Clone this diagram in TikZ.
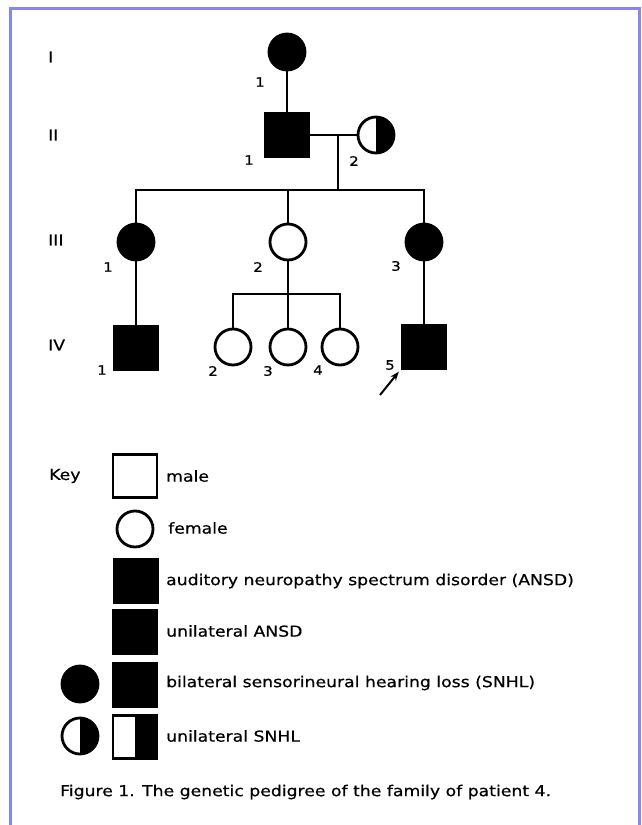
\documentclass[tikz,border=0pt]{standalone}
\usepackage{fontspec}
\setmainfont{DejaVu Sans}[FakeStretch=1.15,FakeBold=0.6]
\usetikzlibrary{arrows.meta}
\definecolor{frameblue}{RGB}{136,136,234}
\begin{document}
\begin{tikzpicture}[x=1pt,y=-1pt]
%styles
\tikzstyle{female}=[circle, draw, line width=2.8pt, minimum size=36pt, inner sep=0pt]
\tikzstyle{male}=[rectangle, draw, line width=2.4pt, minimum width=44pt, minimum height=43pt, inner sep=0pt]
\tikzstyle{affected}=[fill=black]
\tikzstyle{halfright}=[path picture={\fill (path picture bounding box.north) rectangle (path picture bounding box.south east);}]
\tikzstyle{idnum}=[font=\fontsize{13}{13}\selectfont, inner sep=0pt]
\tikzstyle{gen}=[anchor=west, font=\fontsize{15}{15}\selectfont, inner sep=0pt]
\tikzstyle{keytext}=[anchor=west, font=\fontsize{15}{15}\selectfont, inner sep=0pt]
\tikzstyle{line}=[line width=2.8pt]
%frame
\useasboundingbox (0,0) rectangle (641,825);
\draw[frameblue, line width=3pt] (10.5,830) -- (10.5,8.5) -- (639.5,8.5) -- (639.5,830);
%generations
\node[gen] (genI) at (48,57) {I};
\node[gen] (genII) at (48,135) {II};
\node[gen] (genIII) at (48,240) {III};
\node[gen] (genIV) at (48,345) {IV};
%nodes
\node[female, affected] (I1) at (287,52) {};
\node[male, affected] (II1) at (287,135) {};
\node[female, halfright] (II2) at (376,135) {};
\node[female, affected] (III1) at (136,242) {};
\node[female] (III2) at (288,242) {};
\node[female, affected] (III3) at (424,242) {};
\node[male, affected] (IV1) at (136,348) {};
\node[female] (IV2) at (233,347) {};
\node[female] (IV3) at (288,347) {};
\node[female] (IV4) at (340,347) {};
\node[male, affected] (IV5) at (424,347) {};
%numbers
\node[idnum] (nI1) at (260,82) {1};
\node[idnum] (nII1) at (249,160) {1};
\node[idnum] (nII2) at (354,161) {2};
\node[idnum] (nIII1) at (108,267) {1};
\node[idnum] (nIII2) at (258,267) {2};
\node[idnum] (nIII3) at (396,266) {3};
\node[idnum] (nIV1) at (102,370) {1};
\node[idnum] (nIV2) at (213,371) {2};
\node[idnum] (nIV3) at (268,371) {3};
\node[idnum] (nIV4) at (318,370) {4};
\node[idnum] (nIV5) at (390,365) {5};
%lines
\coordinate (mate) at (338,135);
\coordinate (sibL) at (136,190);
\coordinate (sibM) at (288,190);
\coordinate (sibR) at (424,190);
\coordinate (sub) at (288,294);
\draw[line] (I1) -- (II1);
\draw[line] (II1) -- (II2);
\draw[line] (mate) -- (mate |- sibL);
\draw[line] (III1) -- (sibL) -- (sibR) -- (III3);
\draw[line] (III2) -- (sibM);
\draw[line] (III1) -- (IV1);
\draw[line] (III3) -- (IV5);
\draw[line] (III2) -- (sub);
\draw[line] (IV2) |- (sub) -| (IV4);
\draw[line] (IV3) -- (sub);
%proband
\coordinate (prob) at (380,395);
\draw[-{Stealth[length=9pt]}, line width=2pt] (prob) -- ([shift={(-2,2)}]IV5.south west);
%key
\node[keytext] (key) at (49,476) {Key};
\node[male] (kmale) at (135,476) {};
\node[keytext] (tmale) at (166,476) {male};
\node[female] (kfemale) at (135,529) {};
\node[keytext] (tfemale) at (168,528) {female};
\node[male, affected] (kansd) at (136,581) {};
\node[keytext] (tansd) at (166,581) {auditory neuropathy spectrum disorder (ANSD)};
\node[male, affected] (kuansd) at (135,632) {};
\node[keytext] (tuansd) at (166,631) {unilateral ANSD};
\node[female, affected] (kbsnhlF) at (80,684) {};
\node[male, affected] (kbsnhlM) at (135,685) {};
\node[keytext] (tbsnhl) at (166,683) {bilateral sensorineural hearing loss (SNHL)};
\node[female, halfright] (kusnhlF) at (80,736) {};
\node[male, halfright] (kusnhlM) at (135,737) {};
\node[keytext] (tusnhl) at (166,736) {unilateral SNHL};
%caption
\node[keytext] (caption) at (60,792) {Figure 1. The genetic pedigree of the family of patient 4.};
\end{tikzpicture}
\end{document}
